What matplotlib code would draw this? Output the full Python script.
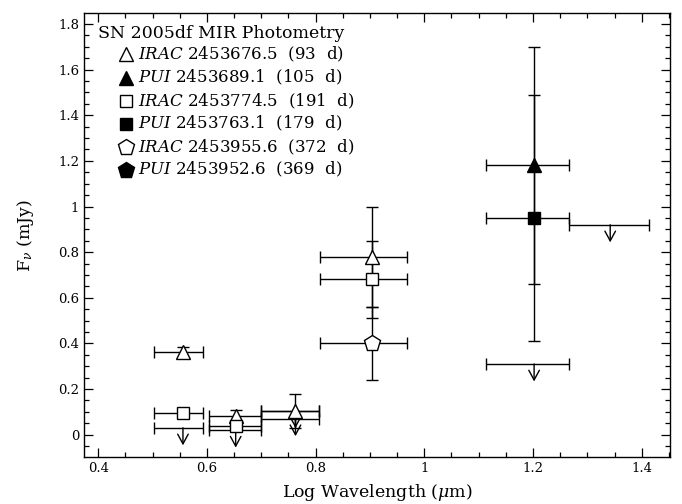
import matplotlib
matplotlib.use('Agg')
import matplotlib.pyplot as plt
from matplotlib.ticker import MultipleLocator, FormatStrFormatter

plt.rcParams['font.family'] = 'DejaVu Serif'
plt.rcParams['mathtext.fontset'] = 'dejavuserif'

# log wavelength of each band (um) and the band edges
# IRAC 3.6 / 4.5 / 5.8 / 8.0, PUI 16 / 22
# --- IRAC 93 d (open triangle)
tri_x = [0.556, 0.653, 0.763, 0.903]
tri_lo = [0.503, 0.603, 0.700, 0.809]
tri_hi = [0.592, 0.700, 0.807, 0.969]
tri_y = [0.36, 0.08, 0.105, 0.78]
tri_err = [0.025, 0.03, 0.075, 0.22]

# --- PUI 105 d (filled triangle)
ftri_x = [1.202]
ftri_lo = [1.114]
ftri_hi = [1.266]
ftri_y = [1.18]
ftri_err = [0.52]

# --- IRAC 191 d (open square)
sq_x = [0.556, 0.653, 0.903]
sq_lo = [0.503, 0.603, 0.809]
sq_hi = [0.592, 0.700, 0.969]
sq_y = [0.095, 0.036, 0.68]
sq_err = [0.02, 0.02, 0.17]

# --- PUI 179 d (filled square)
fsq_x = [1.202]
fsq_lo = [1.114]
fsq_hi = [1.266]
fsq_y = [0.95]
fsq_err = [0.54]

# --- IRAC 372 d (open pentagon)
pen_x = [0.903]
pen_lo = [0.809]
pen_hi = [0.969]
pen_y = [0.40]
pen_err = [0.16]

# --- upper limits (bar + arrow)
ul_x = [0.556, 0.653, 0.763, 0.763, 1.202, 1.342]
ul_lo = [0.503, 0.603, 0.700, 0.700, 1.114, 1.266]
ul_hi = [0.592, 0.700, 0.807, 0.807, 1.266, 1.413]
ul_y = [0.03, 0.02, 0.07, 0.105, 0.31, 0.92]

legend_title = 'SN 2005df MIR Photometry'
legend_labels = [r'$\it{IRAC}$ 2453676.5  (93  d)',
                 r'$\it{PUI}$ 2453689.1  (105  d)',
                 r'$\it{IRAC}$ 2453774.5  (191  d)',
                 r'$\it{PUI}$ 2453763.1  (179  d)',
                 r'$\it{IRAC}$ 2453955.6  (372  d)',
                 r'$\it{PUI}$ 2453952.6  (369  d)']
legend_marks = [('^', 'white', 10.5), ('^', 'black', 10.5), ('s', 'white', 9),
                ('s', 'black', 9), ('p', 'white', 12), ('p', 'black', 12)]

fig = plt.figure(figsize=(6.82, 5.04), dpi=100)
ax = fig.add_axes([0.1232, 0.0938, 0.8592, 0.8798])

ebkw = dict(color='black', ecolor='black', elinewidth=1, capsize=4, capthick=1,
            markeredgecolor='black', markeredgewidth=1, linestyle='none', zorder=3)


def errs(x, lo, hi):
    return [[a - b for a, b in zip(x, lo)], [c - a for a, c in zip(x, hi)]]


ax.errorbar(tri_x, tri_y, yerr=tri_err, xerr=errs(tri_x, tri_lo, tri_hi),
            marker='^', ms=10, markerfacecolor='white', **ebkw)
ax.errorbar(sq_x, sq_y, yerr=sq_err, xerr=errs(sq_x, sq_lo, sq_hi),
            marker='s', ms=8.5, markerfacecolor='white', **ebkw)
ax.errorbar(pen_x, pen_y, yerr=pen_err, xerr=errs(pen_x, pen_lo, pen_hi),
            marker='p', ms=12, markerfacecolor='white', **ebkw)
ax.errorbar(ftri_x, ftri_y, yerr=ftri_err, xerr=errs(ftri_x, ftri_lo, ftri_hi),
            marker='^', ms=10, markerfacecolor='black', **ebkw)
ax.errorbar(fsq_x, fsq_y, yerr=fsq_err, xerr=errs(fsq_x, fsq_lo, fsq_hi),
            marker='s', ms=9, markerfacecolor='black', **ebkw)

# upper limits: horizontal band bar + downward arrow
ax.errorbar(ul_x, ul_y, xerr=errs(ul_x, ul_lo, ul_hi), fmt='none',
            ecolor='black', elinewidth=1, capsize=4, capthick=1)
arrow_len = 0.077
for x, y in zip(ul_x, ul_y):
    ax.annotate('', xy=(x, y - arrow_len), xytext=(x, y),
                arrowprops=dict(arrowstyle='->,head_length=0.7,head_width=0.38',
                                color='black', lw=1, shrinkA=0, shrinkB=0))

# legend block
ax.text(0.024, 0.955, legend_title, transform=ax.transAxes, fontsize=12.5,
        ha='left', va='center')
rows_y = [0.9077, 0.855, 0.8023, 0.7513, 0.6985, 0.6475]
for (m, fc, ms), lab, yy in zip(legend_marks, legend_labels, rows_y):
    ax.plot([0.0717], [yy], marker=m, ms=ms, markerfacecolor=fc,
            markeredgecolor='black', markeredgewidth=1, linestyle='none',
            transform=ax.transAxes, clip_on=False)
    ax.text(0.092, yy, lab, transform=ax.transAxes, fontsize=12,
            ha='left', va='center')

ax.set_xlim(0.374, 1.452)
ax.set_ylim(-0.097, 1.847)
ax.xaxis.set_major_locator(MultipleLocator(0.2))
ax.xaxis.set_minor_locator(MultipleLocator(0.05))
ax.yaxis.set_major_locator(MultipleLocator(0.2))
ax.yaxis.set_minor_locator(MultipleLocator(0.05))
ax.xaxis.set_major_formatter(FormatStrFormatter('%g'))
ax.yaxis.set_major_formatter(FormatStrFormatter('%g'))
ax.tick_params(which='both', direction='in', top=True, right=True, width=0.9,
               labelsize=9.5)
ax.tick_params(which='major', length=6.5)
ax.tick_params(which='minor', length=3.5)
for s in ax.spines.values():
    s.set_linewidth(1)

ax.set_xlabel(r'Log Wavelength ($\mu$m)', fontsize=12.5, labelpad=5)
ax.set_ylabel(r'F$_\nu$ (mJy)', fontsize=12.5, labelpad=16)

fig.savefig('out.png', dpi=100)
